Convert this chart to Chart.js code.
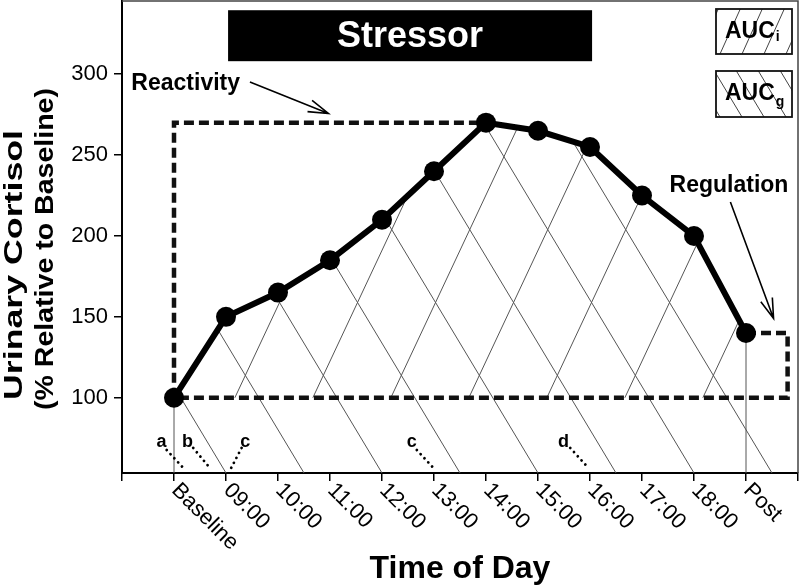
<!DOCTYPE html>
<html>
<head>
<meta charset="utf-8">
<script src="https://cdn.jsdelivr.net/npm/chart.js@4.4.0/dist/chart.umd.min.js"></script>
<style>
  html, body { margin: 0; padding: 0; background: #fff; }
</style>
</head>
<body>
<canvas id="cortisolChart" width="800" height="585"></canvas>
<script>
// data
var times = ['Baseline', '09:00', '10:00', '11:00', '12:00', '13:00', '14:00', '15:00', '16:00', '17:00', '18:00', 'Post'];
var cortisol = [100, 150, 165, 185, 210, 240, 270, 265, 255, 225, 200, 140];
var yTicks = [100, 150, 200, 250, 300];
var xTicks = [-1, 0, 1, 2, 3, 4, 5, 6, 7, 8, 9, 10, 11, 12];

// dashed brackets (reactivity = baseline to peak, regulation = post back to baseline)
var reactX = [0, 0, 6];
var reactY = [100, 270, 270];
var regX = [11, 11.8, 11.8, 0];
var regY = [140, 140, 100, 100];

// stressor period
var stressorSpan = [1.04, 8.04];
var stressorLevels = [308, 339.5];

// letter notes near the axis
var notes = ['a', 'b', 'c', 'c', 'd'];
var noteX = [-0.24, 0.26, 1.37, 4.57, 7.49];
var noteY = 69.7;
var dotFromX = [-0.14, 0.37, 1.30, 4.67, 7.62];
var dotFromY = [67.7, 69, 69, 67.7, 69];
var dotToX = [0.18, 0.69, 1.08, 4.99, 7.97];
var dotToY = [56.6, 56.6, 55.4, 56.6, 56.6];

// arrows to the brackets
var arrowTail = [[1.46, 295.2], [10.7, 221]];
var arrowTip = [[2.97, 275.7], [11.53, 149]];
var arrowText = ['Reactivity', 'Regulation'];
var arrowTextPos = [[-0.82, 294.4], [9.53, 231.3]];

var FONT = '"Liberation Sans", Arial, Helvetica, sans-serif';

// hatch settings (AUCg "\" from the axis floor, AUCi "/" from the baseline)
var gStart = 1, gStep = 1.5, gRun = -1.87, gCount = 9;
var iStart = 1.17, iStep = 1.5, iRun = 1.46, iCount = 7;

function toPx(chart, x, y) {
    return { x: chart.scales.x.getPixelForValue(x), y: chart.scales.y.getPixelForValue(y) };
}

function rayHit(a, d, pts) {
    var best = null;
    for (var i = 0; i < pts.length - 1; i++) {
        var p = pts[i], q = pts[i + 1];
        var ex = q.x - p.x, ey = q.y - p.y;
        var den = d.x * ey - d.y * ex;
        if (Math.abs(den) < 1e-9) continue;
        var wx = p.x - a.x, wy = p.y - a.y;
        var t = (wx * ey - wy * ex) / den;
        var u = (wx * d.y - wy * d.x) / den;
        if (t > 0 && u >= 0 && u <= 1 && (best === null || t < best)) best = t;
    }
    return best;
}

function drawHatch(chart, start, step, count, run, baseY, curve) {
    var ctx = chart.ctx;
    for (var k = 0; k < count; k++) {
        var ax = start + k * step;
        var a = toPx(chart, ax, baseY);
        var b = toPx(chart, ax + run, baseY + 100);
        var d = { x: b.x - a.x, y: b.y - a.y };
        var t = rayHit(a, d, curve);
        if (t === null) continue;
        ctx.beginPath();
        ctx.moveTo(a.x, a.y);
        ctx.lineTo(a.x + t * d.x, a.y + t * d.y);
        ctx.stroke();
    }
}

function arrow(ctx, from, to) {
    var ang = Math.atan2(to.y - from.y, to.x - from.x);
    var len = 21, spread = 17 * Math.PI / 180;
    ctx.beginPath();
    ctx.moveTo(from.x, from.y);
    ctx.lineTo(to.x, to.y);
    ctx.moveTo(to.x - len * Math.cos(ang - spread), to.y - len * Math.sin(ang - spread));
    ctx.lineTo(to.x, to.y);
    ctx.lineTo(to.x - len * Math.cos(ang + spread), to.y - len * Math.sin(ang + spread));
    ctx.stroke();
}

function stretchedText(ctx, text, cx, cy, font, len) {
    ctx.save();
    ctx.font = font;
    var w = ctx.measureText(text).width;
    ctx.translate(cx, cy);
    ctx.rotate(-Math.PI / 2);
    ctx.scale(len / w, 1);
    ctx.textAlign = 'center';
    ctx.textBaseline = 'alphabetic';
    ctx.fillText(text, 0, 0);
    ctx.restore();
}

function legendBox(ctx, left, top, w, h, slope, label, sub, subDy) {
    ctx.save();
    ctx.beginPath();
    ctx.rect(left, top, w, h);
    ctx.clip();
    ctx.strokeStyle = '#444';
    ctx.lineWidth = 1;
    for (var x = left - 40; x < left + w + 40; x += 22) {
        ctx.beginPath();
        ctx.moveTo(x, top + h);
        ctx.lineTo(x + slope * h, top);
        ctx.stroke();
    }
    ctx.restore();
    ctx.strokeStyle = '#111';
    ctx.lineWidth = 1.8;
    ctx.strokeRect(left, top, w, h);
    ctx.fillStyle = '#000';
    ctx.textAlign = 'left';
    ctx.textBaseline = 'alphabetic';
    ctx.font = 'bold 23px ' + FONT;
    ctx.fillText(label, left + 9, top + 29);
    var lw = ctx.measureText(label).width;
    ctx.font = 'bold 14px ' + FONT;
    ctx.fillText(sub, left + 9 + lw + 1, top + 29 + subDy);
}

var backPlugin = {
    id: 'backPlugin',
    beforeDatasetsDraw(chart) {
        var ctx = chart.ctx, area = chart.chartArea;
        var yMin = chart.scales.y.min;
        var curve = times.map(function (t, i) { return toPx(chart, i, cortisol[i]); });
        ctx.save();
        ctx.beginPath();
        ctx.rect(area.left, area.top, area.width, area.height);
        ctx.clip();
        ctx.strokeStyle = '#555';
        ctx.lineWidth = 1;
        drawHatch(chart, gStart, gStep, gCount, gRun, yMin, curve);
        drawHatch(chart, iStart, iStep, iCount, iRun, 100, curve);
        // region edges at baseline and post
        [0, times.length - 1].forEach(function (i) {
            ctx.beginPath();
            ctx.moveTo(curve[i].x, curve[i].y);
            ctx.lineTo(curve[i].x, area.bottom);
            ctx.stroke();
        });
        // stressor bar
        var s0 = toPx(chart, stressorSpan[0], stressorLevels[1]);
        var s1 = toPx(chart, stressorSpan[1], stressorLevels[0]);
        ctx.fillStyle = '#000';
        ctx.fillRect(s0.x, s0.y, s1.x - s0.x, s1.y - s0.y);
        ctx.fillStyle = '#fff';
        ctx.font = 'bold 36px ' + FONT;
        ctx.textAlign = 'center';
        ctx.textBaseline = 'middle';
        ctx.fillText('Stressor', (s0.x + s1.x) / 2, (s0.y + s1.y) / 2 + 1);
        ctx.restore();
    },
    afterDraw(chart) {
        var ctx = chart.ctx, area = chart.chartArea;
        var xs = chart.scales.x;
        ctx.save();
        // frame top and right
        ctx.strokeStyle = '#444';
        ctx.lineWidth = 1.5;
        ctx.beginPath();
        ctx.moveTo(area.left, area.top);
        ctx.lineTo(area.right, area.top);
        ctx.lineTo(area.right, area.bottom);
        ctx.stroke();

        // rotated category labels
        ctx.fillStyle = '#000';
        ctx.font = '22px ' + FONT;
        ctx.textAlign = 'left';
        ctx.textBaseline = 'middle';
        times.forEach(function (t, i) {
            var p = xs.getPixelForValue(i);
            ctx.save();
            ctx.translate(p + 1, area.bottom + 14);
            ctx.rotate(Math.PI / 4);
            ctx.fillText(t, 0, 0);
            ctx.restore();
        });

        // axis titles
        ctx.font = 'bold 32px ' + FONT;
        ctx.textAlign = 'center';
        ctx.textBaseline = 'alphabetic';
        ctx.fillText('Time of Day', (area.left + area.right) / 2, 578);
        stretchedText(ctx, 'Urinary Cortisol', 22, 265, 'bold 25px ' + FONT, 270);
        stretchedText(ctx, '(% Relative to Baseline)', 53, 249, 'bold 25px ' + FONT, 322);

        // arrows and their words
        ctx.strokeStyle = '#000';
        ctx.lineWidth = 1.6;
        for (var i = 0; i < arrowText.length; i++) {
            arrow(ctx, toPx(chart, arrowTail[i][0], arrowTail[i][1]), toPx(chart, arrowTip[i][0], arrowTip[i][1]));
            var tp = toPx(chart, arrowTextPos[i][0], arrowTextPos[i][1]);
            ctx.font = 'bold 23px ' + FONT;
            ctx.textAlign = 'left';
            ctx.textBaseline = 'middle';
            ctx.fillText(arrowText[i], tp.x, tp.y);
        }

        // letter notes with dotted leaders
        for (var j = 0; j < notes.length; j++) {
            var np = toPx(chart, noteX[j], noteY);
            ctx.font = 'bold 18px ' + FONT;
            ctx.textAlign = 'center';
            ctx.textBaseline = 'alphabetic';
            ctx.fillText(notes[j], np.x, np.y);
            var f = toPx(chart, dotFromX[j], dotFromY[j]);
            var g = toPx(chart, dotToX[j], dotToY[j]);
            ctx.save();
            ctx.lineWidth = 2.8;
            ctx.lineCap = 'round';
            ctx.setLineDash([0.01, 5.6]);
            ctx.beginPath();
            ctx.moveTo(f.x, f.y);
            ctx.lineTo(g.x, g.y);
            ctx.stroke();
            ctx.restore();
        }

        // AUC legend boxes
        legendBox(ctx, area.right - 82, area.top + 8, 76, 45, 0.45, 'AUC', 'i', 3);
        legendBox(ctx, area.right - 82, area.top + 70, 76, 46, -0.6, 'AUC', 'g', 6);
        ctx.restore();
    }
};

function pairs(xv, yv) {
    return xv.map(function (x, i) { return { x: x, y: yv[i] }; });
}

function noPad(s) {
    s.paddingTop = 0;
    s.paddingBottom = 0;
    s.paddingLeft = 0;
    s.paddingRight = 0;
}

var ctx = document.getElementById('cortisolChart');

var chart = new Chart(ctx, {
    type: 'line',
    data: {
        datasets: [{
            label: 'Cortisol',
            data: pairs(times.map(function (t, i) { return i; }), cortisol),
            borderColor: '#000',
            backgroundColor: '#000',
            borderWidth: 6,
            pointRadius: 10,
            pointBackgroundColor: '#000',
            pointBorderWidth: 0,
            tension: 0
        }, {
            label: 'Reactivity',
            data: pairs(reactX, reactY),
            borderColor: '#111',
            borderWidth: 4.5,
            borderDash: [10, 5],
            pointRadius: 0,
            tension: 0
        }, {
            label: 'Regulation',
            data: pairs(regX, regY),
            borderColor: '#111',
            borderWidth: 4.5,
            borderDash: [10, 5],
            pointRadius: 0,
            tension: 0
        }]
    },
    options: {
        responsive: false,
        animation: false,
        layout: { autoPadding: false, padding: { top: 1, right: 2, left: 0, bottom: 0 } },
        plugins: {
            legend: { display: false },
            tooltip: { enabled: false }
        },
        scales: {
            x: {
                type: 'linear',
                min: -1,
                max: 12,
                afterBuildTicks: function (s) { s.ticks = xTicks.map(function (v) { return { value: v }; }); },
                afterFit: function (s) { s.height = 112; noPad(s); },
                ticks: { callback: function () { return ''; }, autoSkip: false, maxRotation: 0 },
                grid: { drawOnChartArea: false, tickLength: 8, color: '#000', lineWidth: 1.5 },
                border: { display: true, color: '#000', width: 2 }
            },
            y: {
                type: 'linear',
                min: 53.5,
                max: 345.2,
                afterBuildTicks: function (s) { s.ticks = yTicks.map(function (v) { return { value: v }; }); },
                afterFit: function (s) { s.width = 122; noPad(s); },
                ticks: { color: '#000', font: { family: FONT, size: 22 }, padding: 6 },
                grid: { drawOnChartArea: false, tickLength: 8, color: '#000', lineWidth: 1.5 },
                border: { display: true, color: '#000', width: 2 }
            }
        }
    },
    plugins: [backPlugin]
});
</script>
</body>
</html>
